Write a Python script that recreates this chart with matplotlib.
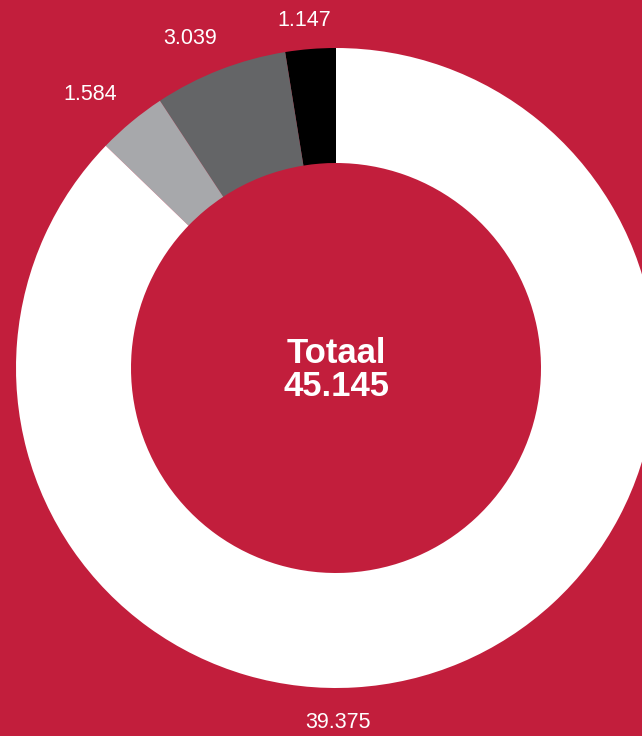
import matplotlib
matplotlib.use("Agg")
import matplotlib.pyplot as plt

categories = ["Zwart", "Donkergrijs", "Lichtgrijs", "Wit"]
values = [1.147, 3.039, 1.584, 39.375]
labels = ["1.147", "3.039", "1.584", "39.375"]
total_label = "Totaal\n45.145"

BG = "#C21E3C"
colors = ["#000000", "#646567", "#A7A8AB", "#FFFFFF"]

W, H = 642, 736
fig = plt.figure(figsize=(W / 100, H / 100), dpi=100, facecolor=BG)
ax = fig.add_axes([0, 0, 1, 1])
ax.set_facecolor(BG)

cx, cy = 336, H - 368
R = 320
width = 115
ax.pie(values, colors=colors, startangle=90, counterclock=True,
       radius=R, center=(cx, cy), frame=True,
       wedgeprops=dict(width=width, edgecolor="none", linewidth=0))
ax.set_xlim(0, W)
ax.set_ylim(0, H)
ax.set_aspect("equal")
ax.axis("off")

font = "Liberation Sans"
label_pos = [(304, 20), (190, 38), (90, 95), (338, 723)]
for lab, (x, y) in zip(labels, label_pos):
    ax.text(x, H - y, lab, color="white", fontsize=15.5, family=font,
            ha="center", va="center")

ax.text(cx, H - 370, total_label, color="white", fontsize=25, family=font,
        fontweight="bold", ha="center", va="center", linespacing=1.0)

fig.savefig("out.png", dpi=100, facecolor=BG)
